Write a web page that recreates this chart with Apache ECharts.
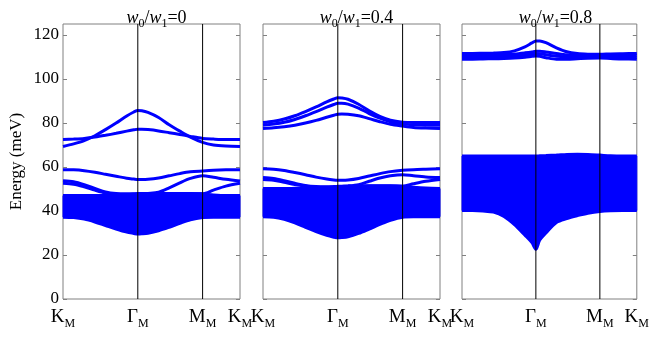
<!DOCTYPE html>
<html>
<head>
<meta charset="utf-8">
<script src="https://cdn.jsdelivr.net/npm/echarts@6/dist/echarts.min.js"></script>
<style>
  html, body { margin: 0; padding: 0; background: #fff; }
  #chart { width: 652px; height: 337px; }
</style>
</head>
<body>
<div id="chart"></div>
<script>
// path K_M -> Γ_M -> M_M -> K_M, position along the path (0..1)
const kPos = [0, 0.4226, 0.7887, 1]
const kNames = ['K', 'Γ', 'M', 'K']
const yTicks = [0, 20, 40, 60, 80, 100, 120]
const ratios = ['0', '0.4', '0.8']

// sample points along the path
const xs = [0, 0.06, 0.12, 0.18, 0.24, 0.30, 0.36, 0.40, 0.4226, 0.445, 0.48, 0.54, 0.60, 0.66, 0.72, 0.7887, 0.85, 0.92, 1]

// w0/w1 = 0
const p1Bands = [
  [69.3, 70.5, 72, 74.2, 77, 80, 83.2, 85, 85.7, 85.6, 84.8, 82.5, 79.2, 76.3, 73.6, 71.2, 70, 69.5, 69.3],
  [72.5, 72.7, 73, 73.6, 74.4, 75.3, 76.3, 76.9, 77.2, 77.2, 77, 76.4, 75.6, 74.8, 73.9, 73, 72.7, 72.5, 72.5],
  [58.8, 58.7, 58.3, 57.6, 56.7, 55.8, 54.9, 54.5, 54.3, 54.3, 54.4, 55, 56, 57, 57.8, 58.2, 58.5, 58.7, 58.8],
  [53.8, 53.3, 52, 50.3, 48.6, 47.9, 47.8, 47.8, 47.9, 47.9, 48, 48.5, 50.5, 52.8, 54.8, 56, 55.3, 54.4, 53.6],
  [52.6, 52.2, 51, 49.5, 48.2, 47.5, 47.5, 47.6, 47.7, 47.8, 47.8, 47.8, 47.8, 47.8, 47.8, 47.8, 49.5, 51.3, 52.6]
]
const p1Top = [47, 47, 47, 47, 47.1, 47.2, 47.4, 47.6, 47.8, 47.9, 48, 48, 48, 48, 48, 47.8, 47.3, 47, 47]
const p1Bottom = [37.2, 37, 36.3, 35, 33.4, 31.8, 30.4, 29.8, 29.5, 29.6, 29.9, 31, 32.6, 34.4, 36, 37, 37.2, 37.2, 37.2]

// w0/w1 = 0.4
const p2Bands = [
  [80.2, 80.8, 81.8, 83.3, 85.2, 87.3, 89.6, 90.9, 91.5, 91.4, 90.8, 88.5, 85.5, 83, 81.3, 80.4, 80.2, 80.2, 80.2],
  [79, 79.5, 80.3, 81.6, 83.3, 85.2, 87.2, 88.4, 89, 89, 88.6, 86.8, 84.3, 82.2, 80.6, 79.6, 79.2, 79, 79],
  [77.5, 77.8, 78.3, 79, 80, 81.2, 82.6, 83.5, 84, 84.1, 84, 83.3, 82, 80.6, 79.4, 78.6, 78, 77.7, 77.5],
  [59.2, 59, 58.4, 57.5, 56.5, 55.4, 54.5, 54.1, 54, 54, 54.1, 54.8, 55.9, 57, 57.9, 58.5, 58.8, 59, 59.2],
  [55.2, 54.8, 53.8, 52.6, 51.6, 51.1, 51, 51.1, 51.2, 51.3, 51.4, 52, 53.5, 55, 56, 56.5, 56, 55.5, 55.2],
  [54.3, 54, 53, 52, 51.2, 50.8, 50.8, 50.9, 51, 51.1, 51.2, 51.3, 51.4, 51.4, 51.4, 51.3, 52.4, 53.5, 54.3]
]
const p2Top = [50.2, 50.2, 50.2, 50.3, 50.4, 50.5, 50.7, 50.9, 51, 51.1, 51.2, 51.4, 51.5, 51.5, 51.5, 51.3, 50.8, 50.4, 50.2]
const p2Bottom = [37.4, 37.2, 36.2, 34.6, 32.6, 30.6, 28.9, 28.1, 27.8, 27.9, 28.3, 29.8, 31.8, 33.9, 35.8, 37.2, 37.4, 37.4, 37.4]

// w0/w1 = 0.8
const p3Bands = [
  [111.6, 111.6, 111.7, 111.8, 112, 112.8, 114.6, 116.4, 117.3, 117.3, 116.5, 114.2, 112.4, 111.6, 111.3, 111.2, 111.4, 111.5, 111.6],
  [110.8, 110.8, 110.9, 111, 111.1, 111.4, 111.9, 112.3, 112.6, 112.6, 112.3, 111.6, 111, 110.8, 110.7, 110.7, 110.8, 110.8, 110.8],
  [109.8, 109.8, 109.9, 110, 110.2, 110.5, 110.9, 111.3, 111.6, 111.5, 111, 110.3, 110, 109.9, 109.9, 110, 109.9, 109.8, 109.8],
  [109, 109, 109.1, 109.2, 109.3, 109.5, 109.9, 110.3, 110.5, 110.3, 109.7, 109, 109, 109.2, 109.4, 109.5, 109.3, 109.1, 109]
]
const p3Top = [65, 65, 65, 65, 65, 65, 65, 65, 65, 65.1, 65.2, 65.4, 65.7, 65.8, 65.7, 65.4, 65.1, 65, 65]
const p3Bottom = [40.2, 40.2, 40, 39.5, 37.5, 33.8, 29, 25.6, 22.6, 26.8, 30, 34.8, 36.6, 37.9, 39, 39.8, 40.1, 40.2, 40.2]

const panels = [
  { bands: p1Bands, top: p1Top, bottom: p1Bottom },
  { bands: p2Bands, top: p2Top, bottom: p2Bottom },
  { bands: p3Bands, top: p3Top, bottom: p3Bottom }
]

const BLUE = '#0000ff'
const FRAME = '#808080'
const FONT = 'Liberation Serif'
const gridLefts = [63, 263, 462]
const gridW = 177
const yMax = 125

const chart = echarts.init(document.getElementById('chart'))

const grids = []
const xAxes = []
const yAxes = []
const titles = []
const series = []

function edgeLine (i, values) {
  return {
    type: 'line', xAxisIndex: i, yAxisIndex: i * 2,
    data: xs.map((x, k) => [x, values[k]]),
    smooth: 0.3, showSymbol: false, silent: true,
    lineStyle: { color: BLUE, width: 3 }
  }
}

panels.forEach((p, i) => {
  grids.push({
    left: gridLefts[i], top: 24, width: gridW, height: 275,
    show: true, borderColor: FRAME, borderWidth: 1
  })
  xAxes.push({
    gridIndex: i, type: 'value', min: 0, max: 1,
    axisLine: { show: false },
    axisTick: { show: false },
    splitLine: { show: false },
    axisLabel: {
      customValues: kPos,
      margin: 6,
      formatter: v => '{b|' + kNames[kPos.indexOf(v)] + '}{s|M}',
      rich: {
        b: { fontFamily: FONT, fontSize: 19, color: '#000', lineHeight: 22, verticalAlign: 'bottom' },
        s: { fontFamily: FONT, fontSize: 12, color: '#000', lineHeight: 12, verticalAlign: 'bottom', padding: [0, 0, -3, 0] }
      }
    }
  })
  // left axis (labels only on first panel)
  yAxes.push({
    gridIndex: i, type: 'value', min: 0, max: yMax, position: 'left',
    name: i === 0 ? 'Energy (meV)' : '',
    nameLocation: 'middle', nameGap: 38,
    nameTextStyle: { fontFamily: FONT, fontSize: 17, color: '#000' },
    axisLine: { show: false },
    splitLine: { show: false },
    axisTick: { inside: true, length: 4, customValues: yTicks, lineStyle: { color: FRAME } },
    axisLabel: { show: i === 0, customValues: yTicks, margin: 4, fontFamily: FONT, fontSize: 17, color: '#000' }
  })
  // right axis, ticks only
  yAxes.push({
    gridIndex: i, type: 'value', min: 0, max: yMax, position: 'right',
    axisLine: { show: false },
    splitLine: { show: false },
    axisTick: { inside: true, length: 4, customValues: yTicks, lineStyle: { color: FRAME } },
    axisLabel: { show: false }
  })
  titles.push({
    text: '{i|w}{s|0}{n|/}{i|w}{s|1}{n|=' + ratios[i] + '}',
    left: gridLefts[i] + gridW / 2, top: 1, textAlign: 'center',
    textStyle: {
      fontWeight: 'normal',
      rich: {
        i: { fontFamily: FONT, fontStyle: 'italic', fontWeight: 'normal', fontSize: 18, color: '#000', lineHeight: 21, verticalAlign: 'bottom' },
        n: { fontFamily: FONT, fontWeight: 'normal', fontSize: 18, color: '#000', lineHeight: 21, verticalAlign: 'bottom' },
        s: { fontFamily: FONT, fontWeight: 'normal', fontSize: 12, color: '#000', lineHeight: 12, verticalAlign: 'bottom', padding: [0, 0, -3, 0] }
      }
    }
  })

  // isolated bands
  p.bands.forEach(b => series.push(edgeLine(i, b)))

  // dense continuum: filled region between bottom and top edges
  series.push({
    type: 'custom', xAxisIndex: i, yAxisIndex: i * 2, silent: true,
    data: xs.map((x, k) => [x, p.bottom[k], p.top[k]]),
    encode: { x: 0, y: [1, 2] },
    renderItem: (params, api) => {
      if (params.dataIndex !== 0) return null
      const pts = []
      xs.forEach((x, k) => pts.push(api.coord([x, p.top[k]])))
      for (let k = xs.length - 1; k >= 0; k--) pts.push(api.coord([xs[k], p.bottom[k]]))
      return {
        type: 'polygon',
        shape: { points: pts },
        style: { fill: BLUE, stroke: BLUE, lineWidth: 1 }
      }
    }
  })
  series.push(edgeLine(i, p.top))
  series.push(edgeLine(i, p.bottom))

  // vertical lines at Γ_M and M_M, drawn over the bands
  ;[kPos[1], kPos[2]].forEach(kx => {
    series.push({
      type: 'line', xAxisIndex: i, yAxisIndex: i * 2, z: 10,
      data: [[kx, 0], [kx, yMax]],
      showSymbol: false, silent: true,
      lineStyle: { color: '#000', width: 1 }
    })
  })
})

chart.setOption({
  animation: false,
  title: titles,
  grid: grids,
  xAxis: xAxes,
  yAxis: yAxes,
  series: series
})
</script>
</body>
</html>
